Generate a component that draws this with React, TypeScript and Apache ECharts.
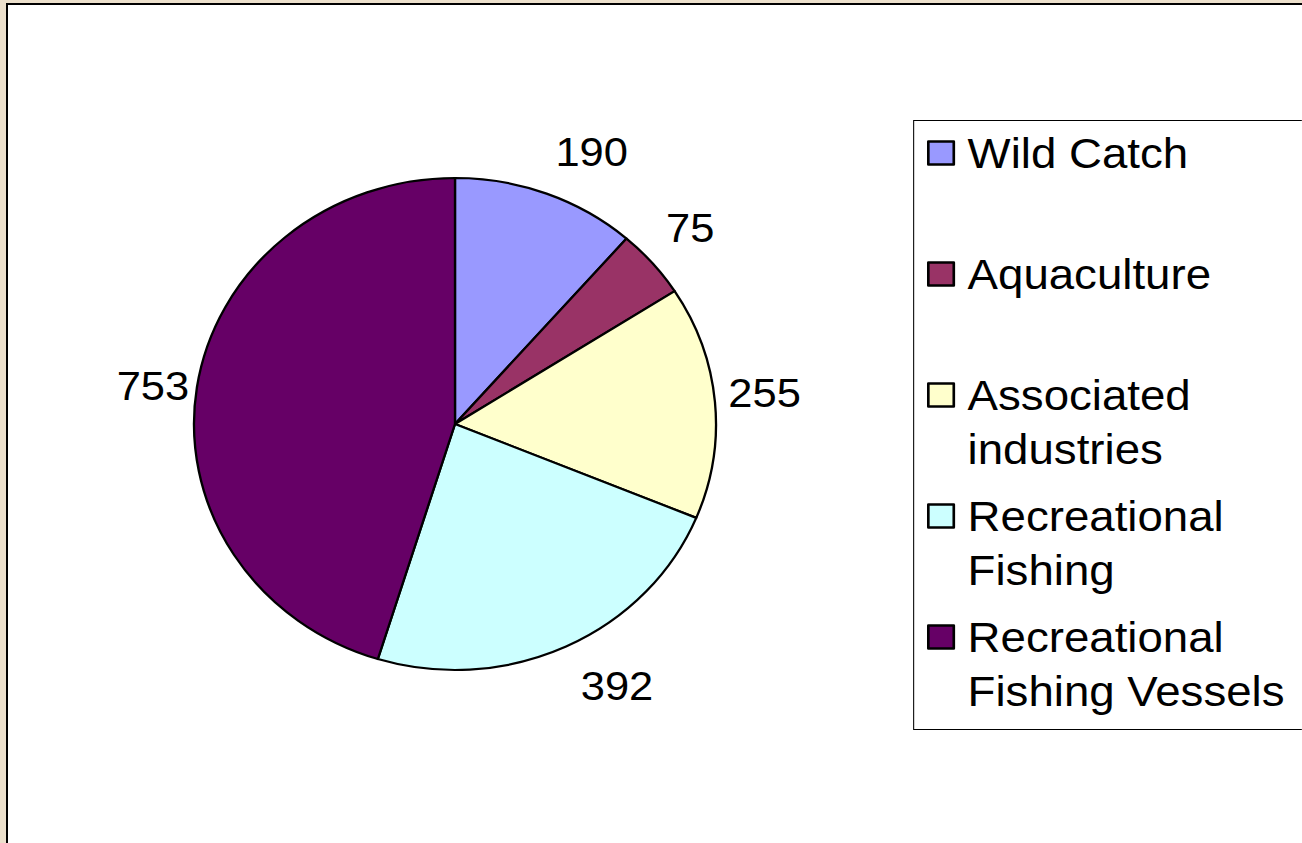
import React, { useEffect, useRef } from "react";
import * as echarts from "echarts";

const categories = [
  "Wild Catch",
  "Aquaculture",
  "Associated industries",
  "Recreational Fishing",
  "Recreational Fishing Vessels",
];
const values = [190, 75, 255, 392, 753];
const colors = ["#9999FF", "#993366", "#FFFFCC", "#CCFFFF", "#660066"];
const legendLines = [
  "Wild Catch",
  "Aquaculture",
  "Associated\nindustries",
  "Recreational\nFishing",
  "Recreational\nFishing Vessels",
];

// small label nudges (px) to mimic the original label placement
const labelShiftX = [26, 0, 0, 28, 5];
const labelShiftY = [2, -5, -5, -3, 6];

const SX = 1.061;
const W = 1302;
const H = 843;
const FONT = "'Liberation Sans', Arial, sans-serif";

export default function App() {
  const ref = useRef<HTMLDivElement>(null);

  useEffect(() => {
    if (!ref.current) return;
    const chart = echarts.init(ref.current, undefined, { renderer: "svg" });
    const data = categories.map((name, i) => ({
      name,
      value: values[i],
      itemStyle: { color: colors[i] },
    }));
    const labelData = categories.map((name, i) => ({ name, value: values[i] }));
    const cx = 455 / SX;
    const cy = 424;
    chart.setOption({
      animation: false,
      backgroundColor: "transparent",
      textStyle: { fontFamily: FONT },
      legend: {
        orient: "vertical",
        left: 927 / SX,
        top: 72,
        padding: 0,
        itemWidth: 24,
        itemHeight: 23,
        itemGap: -41,
        selectedMode: false,
        data: categories,
        icon: "rect",
        itemStyle: { borderColor: "#000", borderWidth: 2.5 },
        formatter: (name: string) => {
          const t = legendLines[categories.indexOf(name)];
          return t.indexOf("\n") >= 0 ? "\n" + t : "\n" + t + "\n";
        },
        textStyle: {
          fontFamily: FONT,
          fontSize: 43,
          lineHeight: 54,
          color: "#000",
          padding: [0, 0, 0, 8],
        },
      },
      graphic: [
        {
          type: "rect",
          left: 911 / SX,
          top: 118,
          shape: { width: 390 / SX, height: 609 },
          style: { fill: "none", stroke: "#000", lineWidth: 1 },
          silent: true,
        },
      ],
      series: [
        {
          type: "pie",
          center: [cx, cy],
          radius: 246,
          startAngle: 90,
          clockwise: true,
          label: { show: false },
          labelLine: { show: false },
          emphasis: { disabled: true },
          itemStyle: { borderColor: "#000", borderWidth: 2.2 },
          data,
        },
        {
          type: "pie",
          center: [cx, cy],
          radius: [246, 334],
          startAngle: 90,
          clockwise: true,
          silent: true,
          emphasis: { disabled: true },
          itemStyle: { color: "transparent", borderWidth: 0 },
          labelLine: { show: false },
          label: {
            show: true,
            position: "inside",
            formatter: "{c}",
            fontFamily: FONT,
            fontSize: 41,
            color: "#000",
          },
          labelLayout: (p: any) => ({
            dx: labelShiftX[p.dataIndex] || 0,
            dy: labelShiftY[p.dataIndex] || 0,
          }),
          data: labelData,
        },
      ],
    });
    return () => chart.dispose();
  }, []);

  return (
    <div
      style={{
        position: "absolute",
        left: 0,
        top: 0,
        width: W,
        height: H,
        overflow: "hidden",
        background: "#ECE0CC",
      }}
    >
      <div
        style={{
          position: "absolute",
          left: 6,
          top: 3,
          width: W + 20,
          height: H + 20,
          background: "#fff",
          borderLeft: "2px solid #000",
          borderTop: "2px solid #000",
        }}
      />
      <div
        ref={ref}
        style={{
          position: "absolute",
          left: 0,
          top: 0,
          width: W / SX,
          height: H,
          transform: `scaleX(${SX})`,
          transformOrigin: "0 0",
        }}
      />
    </div>
  );
}
